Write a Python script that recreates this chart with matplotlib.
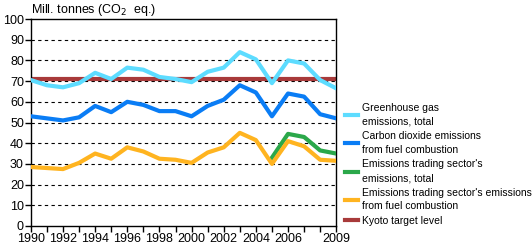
import matplotlib
matplotlib.use("Agg")
import matplotlib.pyplot as plt

plt.rcParams['font.family'] = ['Liberation Sans', 'DejaVu Sans']

# Data (million tonnes CO2 eq.)
years = list(range(1990, 2010))
ghg_total = [70.5, 68, 67, 69, 74, 71, 76.5, 75.5, 72, 71,
             69.5, 74.5, 76.5, 84, 80.5, 69, 80, 78.5, 70.5, 66.5]
co2_fuel = [53, 52, 51, 52.5, 58, 55, 60, 58.5, 55.5, 55.5,
            53, 58, 61, 68, 64.5, 53, 64, 62.5, 54, 52]
ets_years = [2005, 2006, 2007, 2008, 2009]
ets_total = [33, 44.5, 43, 36.5, 35]
ets_fuel = [28.5, 28, 27.5, 30.5, 35, 32.5, 38, 36, 32.5, 32,
            30.5, 35.5, 38, 45, 41.5, 30, 41, 38.5, 32, 31.5]
kyoto = 71

tick_years = [1990, 1992, 1994, 1996, 1998, 2000, 2002, 2004, 2006, 2009]
labels = ["Greenhouse gas\nemissions, total",
          "Carbon dioxide emissions\nfrom fuel combustion",
          "Emissions trading sector's\nemissions, total",
          "Emissions trading sector's emissions\nfrom fuel combustion",
          "Kyoto target level"]

fig = plt.figure(figsize=(5.32, 2.5), dpi=100)
ax = fig.add_axes([0.058, 0.096, 0.574, 0.828])

lw = 3.0
l1, = ax.plot(years, ghg_total, color="#5ddcff", lw=lw, zorder=3)
l2, = ax.plot(years, co2_fuel, color="#0a7df5", lw=lw, zorder=3)
l3, = ax.plot(ets_years, ets_total, color="#2ba84a", lw=lw, zorder=3)
l4, = ax.plot(years, ets_fuel, color="#ffb420", lw=lw, zorder=3)
l5 = ax.axhline(kyoto, color="#a83a3a", lw=lw, zorder=2)

ax.set_xlim(1990, 2009)
ax.set_ylim(0, 100)
ax.set_yticks(range(0, 101, 10))
ax.set_xticks(years, minor=True)
ax.set_xticks(tick_years)
ax.tick_params(axis='both', labelsize=9, direction='out', length=4, width=1, pad=1)
ax.tick_params(axis='x', which='minor', length=4, width=1)
for y in range(10, 100, 10):
    ax.axhline(y, color="black", lw=0.8, ls=(0, (3, 3)), zorder=1)
for s in ax.spines.values():
    s.set_linewidth(1)

fig.text(0.058, 0.99, "Mill. tonnes (CO$_2$  eq.)", fontsize=9, va='top', ha='left')

leg = fig.legend([l1, l2, l3, l4, l5], labels, loc='upper left',
                 bbox_to_anchor=(0.64, 0.605), frameon=False, fontsize=7.5,
                 handlelength=1.3, handletextpad=0.4, labelspacing=0.45,
                 borderaxespad=0)
for t in leg.get_texts():
    t.set_linespacing(1.45)

fig.savefig("out.png", dpi=100)
